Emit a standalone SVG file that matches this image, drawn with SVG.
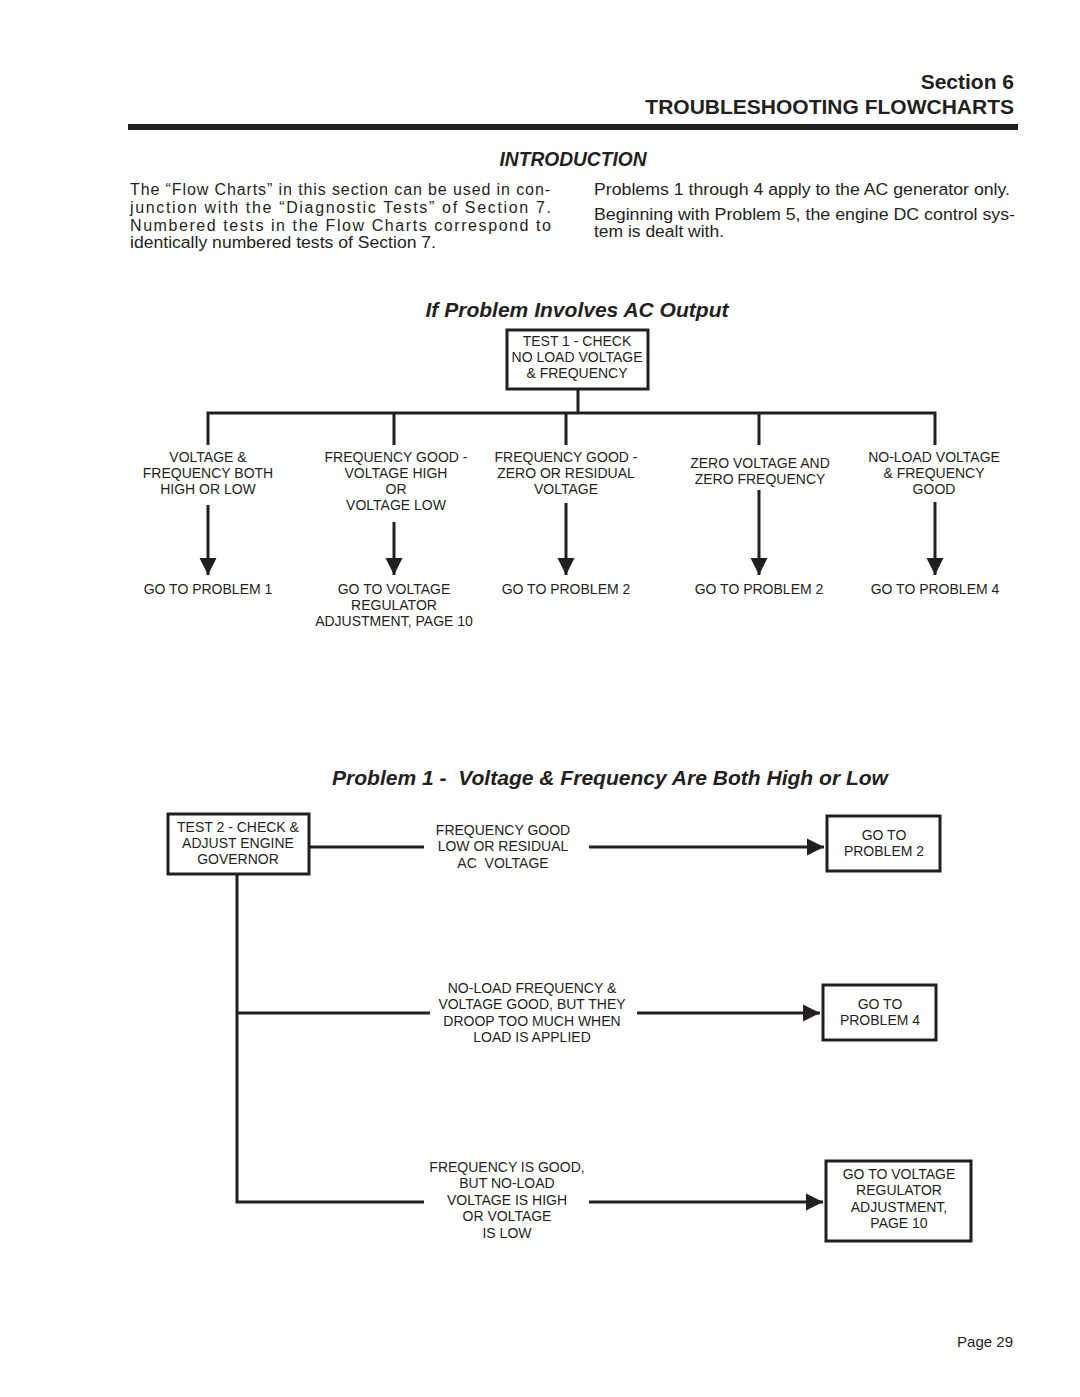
<svg xmlns="http://www.w3.org/2000/svg" width="1080" height="1397" viewBox="0 0 1080 1397">
<defs>
<style>
.t{font-family:"Liberation Sans",Arial,sans-serif;fill:#231f20}
.lb{font-size:14px;text-anchor:middle}
.p{font-size:16px}
.h{font-size:21px;font-weight:bold;text-anchor:end}
.ti{font-size:21px;font-weight:bold;font-style:italic;text-anchor:middle}
.box{fill:#fff;stroke:#231f20;stroke-width:3}
.ln{fill:none;stroke:#231f20;stroke-width:3}
</style>
<marker id="ah" viewBox="0 0 10 10" refX="10" refY="5" markerWidth="5.8" markerHeight="5.8" markerUnits="strokeWidth" orient="auto">
<path d="M0,0 L10,5 L0,10 Z" fill="#231f20"/>
</marker>
</defs>
<rect width="1080" height="1397" fill="#fff"/>

<g id="header">
<text class="t h" x="1014" y="89">Section 6</text>
<text class="t h" x="1014" y="114">TROUBLESHOOTING FLOWCHARTS</text>
<rect x="128" y="124" width="890" height="6" fill="#231f20"/>
<text class="t ti" x="573" y="166" textLength="147" lengthAdjust="spacingAndGlyphs">INTRODUCTION</text>
</g>

<g id="intro">
<text class="t p" x="130" y="195" textLength="420" lengthAdjust="spacing">The “Flow Charts” in this section can be used in con-</text>
<text class="t p" x="130" y="213" textLength="421" lengthAdjust="spacing">junction with the “Diagnostic Tests” of Section 7.</text>
<text class="t p" x="130" y="231" textLength="421" lengthAdjust="spacing">Numbered tests in the Flow Charts correspond to</text>
<text class="t p" x="130" y="248" textLength="306" lengthAdjust="spacingAndGlyphs">identically numbered tests of Section 7.</text>
<text class="t p" x="594" y="195" textLength="416" lengthAdjust="spacingAndGlyphs">Problems 1 through 4 apply to the AC generator only.</text>
<text class="t p" x="594" y="220" textLength="421" lengthAdjust="spacingAndGlyphs">Beginning with Problem 5, the engine DC control sys-</text>
<text class="t p" x="594" y="237" textLength="130" lengthAdjust="spacingAndGlyphs">tem is dealt with.</text>
</g>

<text class="t ti" x="577" y="317" textLength="303" lengthAdjust="spacingAndGlyphs">If Problem Involves AC Output</text>

<g id="connectors">
<path class="ln" d="M578,389 V413 M206.5,413 H936.5 M208,413 V445 M394,413 V445 M566,413 V445 M759,413 V445 M935,413 V445"/>
<line class="ln" x1="208" y1="505" x2="208" y2="575" marker-end="url(#ah)"/>
<line class="ln" x1="394" y1="522" x2="394" y2="575" marker-end="url(#ah)"/>
<line class="ln" x1="566" y1="503" x2="566" y2="575" marker-end="url(#ah)"/>
<line class="ln" x1="759" y1="490" x2="759" y2="575" marker-end="url(#ah)"/>
<line class="ln" x1="935" y1="502" x2="935" y2="575" marker-end="url(#ah)"/>

<path class="ln" d="M310,847 H424"/>
<line class="ln" x1="589" y1="847" x2="824" y2="847" marker-end="url(#ah)"/>
<path class="ln" d="M237,875 V1202 H424 M237,1013 H430"/>
<line class="ln" x1="637" y1="1013" x2="820" y2="1013" marker-end="url(#ah)"/>
<line class="ln" x1="589" y1="1202" x2="823" y2="1202" marker-end="url(#ah)"/>
</g>

<g id="test1">
<rect class="box" x="507" y="330" width="141" height="59"/>
<text class="t lb" x="577" y="346">TEST 1 - CHECK</text>
<text class="t lb" x="577" y="362">NO LOAD VOLTAGE</text>
<text class="t lb" x="577" y="378">&amp; FREQUENCY</text>
</g>

<g id="c1">
<text class="t lb" x="208" y="462">VOLTAGE &amp;</text>
<text class="t lb" x="208" y="478">FREQUENCY BOTH</text>
<text class="t lb" x="208" y="494">HIGH OR LOW</text>
</g>
<g id="c2">
<text class="t lb" x="396" y="462">FREQUENCY GOOD -</text>
<text class="t lb" x="396" y="478">VOLTAGE HIGH</text>
<text class="t lb" x="396" y="494">OR</text>
<text class="t lb" x="396" y="510">VOLTAGE LOW</text>
</g>
<g id="c3">
<text class="t lb" x="566" y="462">FREQUENCY GOOD -</text>
<text class="t lb" x="566" y="478">ZERO OR RESIDUAL</text>
<text class="t lb" x="566" y="494">VOLTAGE</text>
</g>
<g id="c4">
<text class="t lb" x="760" y="468">ZERO VOLTAGE AND</text>
<text class="t lb" x="760" y="484">ZERO FREQUENCY</text>
</g>
<g id="c5">
<text class="t lb" x="934" y="462">NO-LOAD VOLTAGE</text>
<text class="t lb" x="934" y="478">&amp; FREQUENCY</text>
<text class="t lb" x="934" y="494">GOOD</text>
</g>

<g id="r1"><text class="t lb" x="208" y="594">GO TO PROBLEM 1</text></g>
<g id="r2">
<text class="t lb" x="394" y="594">GO TO VOLTAGE</text>
<text class="t lb" x="394" y="610">REGULATOR</text>
<text class="t lb" x="394" y="626">ADJUSTMENT, PAGE 10</text>
</g>
<g id="r3"><text class="t lb" x="566" y="594">GO TO PROBLEM 2</text></g>
<g id="r4"><text class="t lb" x="759" y="594">GO TO PROBLEM 2</text></g>
<g id="r5"><text class="t lb" x="935" y="594">GO TO PROBLEM 4</text></g>

<text class="t ti" x="610" y="785" textLength="556" lengthAdjust="spacingAndGlyphs" xml:space="preserve">Problem 1 -  Voltage &amp; Frequency Are Both High or Low</text>

<g id="test2">
<rect class="box" x="168" y="814" width="141" height="60"/>
<text class="t lb" x="238" y="832">TEST 2 - CHECK &amp;</text>
<text class="t lb" x="238" y="848">ADJUST ENGINE</text>
<text class="t lb" x="238" y="864">GOVERNOR</text>
</g>

<g id="l1">
<text class="t lb" x="503" y="835">FREQUENCY GOOD</text>
<text class="t lb" x="503" y="851">LOW OR RESIDUAL</text>
<text class="t lb" x="503" y="868" xml:space="preserve">AC  VOLTAGE</text>
</g>
<g id="p2">
<rect class="box" x="827" y="816" width="113" height="55"/>
<text class="t lb" x="884" y="840">GO TO</text>
<text class="t lb" x="884" y="856">PROBLEM 2</text>
</g>

<g id="l2">
<text class="t lb" x="532" y="993">NO-LOAD FREQUENCY &amp;</text>
<text class="t lb" x="532" y="1009">VOLTAGE GOOD, BUT THEY</text>
<text class="t lb" x="532" y="1026">DROOP TOO MUCH WHEN</text>
<text class="t lb" x="532" y="1042">LOAD IS APPLIED</text>
</g>
<g id="p4">
<rect class="box" x="823" y="985" width="113" height="55"/>
<text class="t lb" x="880" y="1009">GO TO</text>
<text class="t lb" x="880" y="1025">PROBLEM 4</text>
</g>

<g id="l3">
<text class="t lb" x="507" y="1172">FREQUENCY IS GOOD,</text>
<text class="t lb" x="507" y="1188">BUT NO-LOAD</text>
<text class="t lb" x="507" y="1205">VOLTAGE IS HIGH</text>
<text class="t lb" x="507" y="1221">OR VOLTAGE</text>
<text class="t lb" x="507" y="1238">IS LOW</text>
</g>
<g id="vr">
<rect class="box" x="826" y="1161" width="145" height="80"/>
<text class="t lb" x="899" y="1179">GO TO VOLTAGE</text>
<text class="t lb" x="899" y="1195">REGULATOR</text>
<text class="t lb" x="899" y="1212">ADJUSTMENT,</text>
<text class="t lb" x="899" y="1228">PAGE 10</text>
</g>

<text class="t" x="1013" y="1347" font-size="15" text-anchor="end">Page 29</text>
</svg>
